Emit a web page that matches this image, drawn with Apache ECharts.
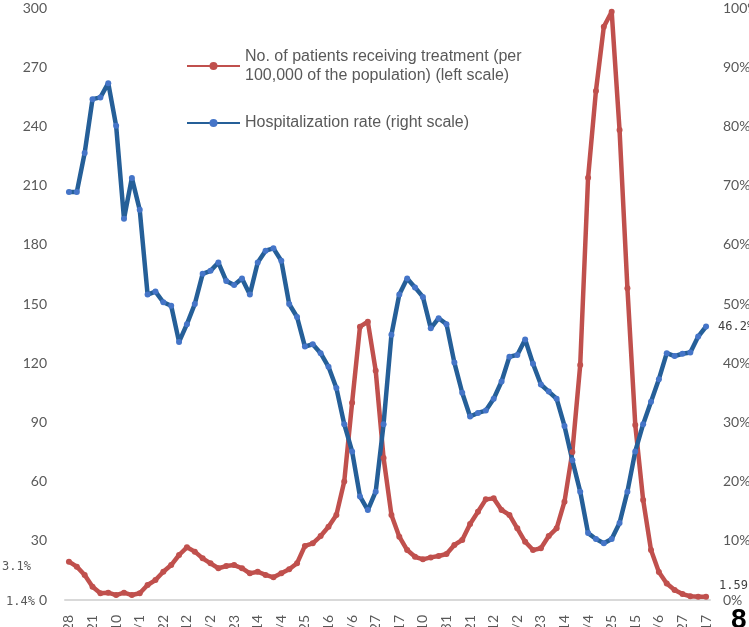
<!DOCTYPE html>
<html>
<head>
<meta charset="utf-8">
<script src="https://cdn.jsdelivr.net/npm/echarts@6/dist/echarts.min.js"></script>
<style>html,body{margin:0;padding:0;background:#fff;}#c{width:749px;height:627px;}</style>
</head>
<body>
<div id="c"></div>
<script>
var categories = ['2020/4/28','2020/5/7','2020/5/13','2020/5/21','2020/5/27','2020/6/3',
'2020/6/10','2020/6/17','2020/6/24','2020/7/1','2020/7/8','2020/7/15','2020/7/22','2020/7/29',
'2020/8/5','2020/8/12','2020/8/19','2020/8/26','2020/9/2','2020/9/9','2020/9/16','2020/9/23','2020/9/30',
'2020/10/7','2020/10/14','2020/10/21','2020/10/28','2020/11/4','2020/11/11','2020/11/18','2020/11/25',
'2020/12/2','2020/12/9','2020/12/16','2020/12/23','2020/12/30',
'2021/1/6','2021/1/13','2021/1/20','2021/1/27','2021/2/3','2021/2/10','2021/2/17','2021/2/24',
'2021/3/3','2021/3/10','2021/3/17','2021/3/24','2021/3/31','2021/4/7','2021/4/14','2021/4/21','2021/4/28',
'2021/5/5','2021/5/12','2021/5/19','2021/5/26','2021/6/2','2021/6/9','2021/6/16','2021/6/23','2021/6/30',
'2021/7/7','2021/7/14','2021/7/21','2021/7/28','2021/8/4','2021/8/11','2021/8/18','2021/8/25',
'2021/9/1','2021/9/8','2021/9/15','2021/9/22','2021/9/29','2021/10/6','2021/10/13','2021/10/20','2021/10/27',
'2021/11/3','2021/11/10','2021/11/17'];

var patients = [19.4,16.9,12.7,6.7,3.4,3.7,2.5,3.7,2.5,3.4,
7.6,10.1,14.3,17.7,22.8,26.7,24.5,21.1,18.6,16.1,
17.2,17.7,16.1,13.5,14.3,12.7,11.5,13.5,15.6,18.6,
27.4,28.7,32.4,37.1,43.1,60,100,138.5,141,116.2,
72,43.1,32.1,25.3,21.9,20.6,21.6,22.3,23.3,27.9,
30.4,38.5,44.7,51.0,51.5,45.6,43.1,36.3,29.5,25.3,
26.2,32.4,36.3,49.8,75,119.1,214,258,290.5,298.1,
238.2,158,88.7,50.7,25.3,14.2,8.4,5.1,3.0,1.9,
1.7,1.59];

var hospRate = [68.9,68.9,75.5,84.6,84.9,87.3,80.1,64.4,71.3,65.9,
51.6,52.1,50.3,49.7,43.6,46.6,50.0,55.1,55.6,57.0,
53.9,53.2,54.3,51.6,57.0,59.0,59.4,57.3,50.0,47.8,
42.8,43.2,41.7,39.4,35.8,29.7,25.1,17.5,15.2,18.3,
29.7,44.8,51.6,54.3,52.8,51.2,45.9,47.6,46.6,40.1,
35.0,31.0,31.6,32.0,34.0,36.9,41.1,41.4,44.0,39.9,
36.4,35.2,34.0,29.4,23.6,18.3,11.3,10.3,9.6,10.3,
13.0,18.3,25.1,29.7,33.5,37.3,41.7,41.2,41.6,41.8,
44.5,46.2];

var leftTicks = {min: 0, max: 300, interval: 30};
var rightTicks = {min: 0, max: 100, interval: 10};

var nameRed = 'No. of patients receiving treatment (per 100,000 of the population) (left scale)';
var nameBlue = 'Hospitalization rate (right scale)';

function lastLabel(arr, lbl) {
  return arr.map(function (v, i) {
    return i === arr.length - 1 ? {value: v, label: lbl} : v;
  });
}

var chart = echarts.init(document.getElementById('c'), null, {renderer: 'canvas'});
var axisFont = {color: '#595959', fontFamily: 'Lato', fontSize: 14};
chart.setOption({
  animation: false,
  backgroundColor: '#ffffff',
  grid: {left: 65, right: 39, top: 8, bottom: 27, outerBoundsMode: 'none', containLabel: false},
  legend: [{
    data: [nameRed], orient: 'vertical', left: 181, top: 42,
    itemWidth: 53, itemHeight: 10,
    formatter: function () { return 'No. of patients receiving treatment (per\n100,000 of the population) (left scale)'; },
    textStyle: {color: '#595959', fontFamily: 'Liberation Sans', fontSize: 16, lineHeight: 19}
  }, {
    data: [nameBlue], orient: 'vertical', left: 181, top: 110,
    itemWidth: 53, itemHeight: 10,
    textStyle: {color: '#595959', fontFamily: 'Liberation Sans', fontSize: 16}
  }],
  xAxis: {
    type: 'category', data: categories, boundaryGap: true,
    axisLine: {show: true, lineStyle: {color: '#D9D9D9', width: 2}},
    axisTick: {show: false},
    axisLabel: Object.assign({interval: 2, rotate: 90, margin: 15}, axisFont),
    splitLine: {show: false}
  },
  yAxis: [{
    type: 'value', min: leftTicks.min, max: leftTicks.max, interval: leftTicks.interval,
    axisLine: {show: false}, axisTick: {show: false}, splitLine: {show: false},
    axisLabel: Object.assign({margin: 18}, axisFont)
  }, {
    type: 'value', min: rightTicks.min, max: rightTicks.max, interval: rightTicks.interval,
    axisLine: {show: false}, axisTick: {show: false}, splitLine: {show: false},
    axisLabel: Object.assign({margin: 13, formatter: '{value}%'}, axisFont)
  }],
  series: [{
    name: nameRed, type: 'line', yAxisIndex: 0,
    data: lastLabel(patients, {show: true, position: 'right', distance: 10, offset: [0, -11],
      formatter: '{c}', color: '#404040', fontFamily: 'DejaVu Sans Mono', fontSize: 12}),
    symbol: 'circle', symbolSize: 6, showSymbol: true, showAllSymbol: true,
    lineStyle: {color: '#C0504D', width: 4.5},
    itemStyle: {color: '#C0504D'}
  }, {
    name: nameBlue, type: 'line', yAxisIndex: 1,
    data: lastLabel(hospRate, {show: true, position: 'right', distance: 9,
      formatter: '{c}%', color: '#404040', fontFamily: 'DejaVu Sans Mono', fontSize: 12}),
    symbol: 'circle', symbolSize: 6, showSymbol: true, showAllSymbol: true,
    lineStyle: {color: '#255F98', width: 4.5},
    itemStyle: {color: '#4575C8'}
  }],
  graphic: [
    {type: 'text', left: 2, top: 561, style: {text: '3.1%', fill: '#595959', font: '12px "DejaVu Sans Mono"'}},
    {type: 'text', left: 6, top: 596, style: {text: '1.4%', fill: '#595959', font: '12px "DejaVu Sans Mono"'}},
    {type: 'text', left: 731, top: 606, style: {text: '8', fill: '#000000', font: 'bold 28px "Liberation Sans"'}}
  ]
});
</script>
</body>
</html>
